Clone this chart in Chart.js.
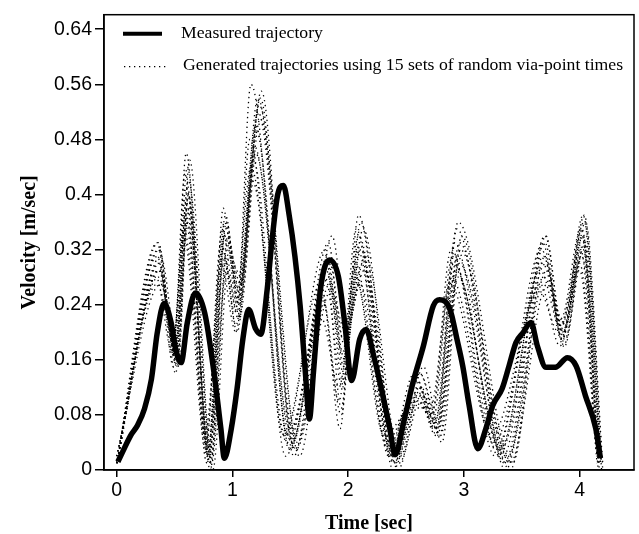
<!DOCTYPE html>
<html>
<head>
<meta charset="utf-8">
<script src="https://cdn.jsdelivr.net/npm/chart.js@4.4.1/dist/chart.umd.min.js"></script>
<style>
  html, body { margin: 0; padding: 0; background: #fff; }
  #wrap { width: 639px; height: 534px; position: relative; }
</style>
</head>
<body>
<div id="wrap"><canvas id="myChart"></canvas></div>
<script>
// axis ticks
const xTickValues = [0, 1, 2, 3, 4];
const yTickValues = [0, 0.08, 0.16, 0.24, 0.32, 0.4, 0.48, 0.56, 0.64];

// measured trajectory: [time sec, velocity m/sec]
const measured = [
  [0.01, 0.012], [0.05, 0.026], [0.12, 0.05], [0.18, 0.065], [0.24, 0.089], [0.30, 0.132],
  [0.35, 0.199], [0.41, 0.242], [0.47, 0.214], [0.51, 0.175], [0.556, 0.156], [0.61, 0.214],
  [0.68, 0.257], [0.76, 0.228], [0.84, 0.142], [0.90, 0.060], [0.93, 0.017], [0.99, 0.060],
  [1.04, 0.118], [1.09, 0.19], [1.14, 0.233], [1.20, 0.205], [1.245, 0.197], [1.30, 0.262],
  [1.34, 0.33], [1.39, 0.399], [1.44, 0.413], [1.49, 0.37], [1.54, 0.31], [1.585, 0.238],
  [1.63, 0.142], [1.665, 0.074], [1.70, 0.142], [1.76, 0.262], [1.84, 0.305], [1.915, 0.281],
  [1.97, 0.214], [2.03, 0.13], [2.10, 0.19], [2.155, 0.204], [2.22, 0.166], [2.30, 0.108],
  [2.36, 0.060], [2.405, 0.022], [2.48, 0.070], [2.56, 0.127], [2.65, 0.18], [2.735, 0.238],
  [2.79, 0.247], [2.88, 0.233], [2.94, 0.19], [2.99, 0.151], [3.045, 0.094], [3.12, 0.031],
  [3.19, 0.06], [3.25, 0.094], [3.33, 0.118], [3.39, 0.151], [3.45, 0.185], [3.51, 0.199],
  [3.58, 0.214], [3.635, 0.18], [3.71, 0.149], [3.79, 0.149], [3.895, 0.163], [3.97, 0.151],
  [4.05, 0.108], [4.14, 0.060], [4.18, 0.017]
];

// generated trajectories (15 sets of random via-point times), peaks and troughs
const gen01 = [[0,0.01],[0.36,0.33],[0.50,0.17],[0.60,0.46],[0.80,0.01],[0.92,0.38],[1.04,0.24],[1.16,0.56],[1.50,0.03],[1.83,0.33],[1.96,0.15],[2.09,0.37],[2.40,0.01],[2.60,0.13],[2.74,0.06],[2.94,0.35],[3.35,0.01],[3.70,0.33],[3.85,0.19],[4.03,0.37],[4.18,0.01]];
const gen02 = [[0,0.01],[0.37,0.29],[0.52,0.16],[0.62,0.40],[0.78,0.02],[0.95,0.36],[1.06,0.22],[1.24,0.54],[1.52,0.04],[1.80,0.28],[1.95,0.12],[2.10,0.33],[2.36,0.02],[2.58,0.12],[2.76,0.05],[2.92,0.33],[3.30,0.02],[3.68,0.30],[3.86,0.20],[4.02,0.34],[4.16,0.01]];
const gen03 = [[0,0.01],[0.35,0.31],[0.49,0.18],[0.59,0.43],[0.81,0.00],[0.93,0.34],[1.05,0.26],[1.20,0.50],[1.48,0.05],[1.84,0.30],[1.97,0.18],[2.12,0.30],[2.42,0.03],[2.62,0.14],[2.78,0.07],[2.96,0.30],[3.40,0.00],[3.71,0.34],[3.84,0.21],[4.04,0.36],[4.19,0.00]];
const gen04 = [[0,0.02],[0.38,0.27],[0.53,0.15],[0.61,0.36],[0.77,0.04],[0.90,0.30],[1.03,0.20],[1.18,0.45],[1.46,0.02],[1.78,0.25],[1.94,0.08],[2.06,0.28],[2.33,0.04],[2.56,0.10],[2.72,0.08],[2.89,0.28],[3.26,0.04],[3.66,0.27],[3.83,0.18],[4.00,0.30],[4.15,0.02]];
const gen05 = [[0,0.01],[0.36,0.30],[0.51,0.19],[0.63,0.38],[0.82,0.01],[0.96,0.33],[1.07,0.27],[1.22,0.52],[1.55,0.03],[1.85,0.26],[1.98,0.20],[2.14,0.29],[2.44,0.01],[2.64,0.11],[2.80,0.05],[2.97,0.32],[3.38,0.02],[3.72,0.29],[3.87,0.19],[4.05,0.33],[4.20,0.01]];
const gen06 = [[0,0.01],[0.34,0.28],[0.48,0.17],[0.58,0.35],[0.79,0.03],[0.91,0.35],[1.04,0.23],[1.15,0.48],[1.44,0.05],[1.76,0.27],[1.92,0.10],[2.07,0.35],[2.35,0.02],[2.57,0.14],[2.73,0.07],[2.90,0.31],[3.28,0.03],[3.67,0.32],[3.84,0.22],[4.01,0.35],[4.16,0.00]];
const gen07 = [[0,0.01],[0.37,0.32],[0.50,0.16],[0.61,0.44],[0.80,0.02],[0.94,0.37],[1.05,0.25],[1.25,0.55],[1.53,0.02],[1.82,0.31],[1.96,0.14],[2.11,0.36],[2.39,0.00],[2.61,0.12],[2.77,0.06],[2.95,0.36],[3.42,0.01],[3.70,0.31],[3.86,0.18],[4.03,0.32],[4.18,0.02]];
const gen08 = [[0,0.02],[0.36,0.28],[0.52,0.18],[0.60,0.39],[0.76,0.05],[0.92,0.32],[1.03,0.21],[1.17,0.42],[1.47,0.04],[1.79,0.24],[1.93,0.06],[2.05,0.29],[2.31,0.05],[2.55,0.09],[2.71,0.09],[2.88,0.27],[3.24,0.05],[3.65,0.26],[3.82,0.20],[4.00,0.29],[4.14,0.03]];
const gen09 = [[0,0.01],[0.35,0.33],[0.49,0.15],[0.62,0.42],[0.83,0.00],[0.97,0.31],[1.08,0.28],[1.23,0.53],[1.58,0.02],[1.86,0.34],[1.99,0.21],[2.15,0.31],[2.45,0.02],[2.65,0.15],[2.81,0.04],[2.98,0.34],[3.36,0.00],[3.69,0.28],[3.88,0.21],[4.04,0.37],[4.19,0.01]];
const gen10 = [[0,0.01],[0.37,0.30],[0.51,0.14],[0.59,0.37],[0.78,0.01],[0.93,0.36],[1.06,0.24],[1.19,0.47],[1.50,0.06],[1.81,0.29],[1.95,0.17],[2.08,0.32],[2.37,0.03],[2.59,0.13],[2.75,0.07],[2.93,0.29],[3.32,0.03],[3.71,0.30],[3.85,0.20],[4.02,0.31],[4.17,0.01]];
const gen11 = [[0,0.01],[0.36,0.29],[0.50,0.20],[0.60,0.41],[0.80,0.03],[0.95,0.29],[1.05,0.22],[1.21,0.49],[1.49,0.03],[1.77,0.22],[1.92,0.12],[2.09,0.34],[2.41,0.01],[2.60,0.10],[2.76,0.06],[2.91,0.30],[3.34,0.02],[3.68,0.33],[3.85,0.19],[4.03,0.34],[4.17,0.00]];
const gen12 = [[0,0.01],[0.38,0.31],[0.53,0.17],[0.63,0.45],[0.82,0.02],[0.96,0.34],[1.07,0.25],[1.24,0.51],[1.56,0.04],[1.84,0.27],[1.97,0.16],[2.13,0.35],[2.43,0.00],[2.63,0.12],[2.79,0.05],[2.96,0.33],[3.40,0.01],[3.72,0.27],[3.87,0.18],[4.05,0.36],[4.20,0.00]];
const gen13 = [[0,0.02],[0.35,0.27],[0.49,0.19],[0.58,0.34],[0.77,0.03],[0.90,0.33],[1.02,0.23],[1.16,0.44],[1.45,0.05],[1.80,0.32],[1.94,0.09],[2.06,0.30],[2.34,0.03],[2.56,0.11],[2.72,0.08],[2.89,0.32],[3.27,0.02],[3.66,0.29],[3.83,0.21],[4.01,0.32],[4.15,0.01]];
const gen14 = [[0,0.01],[0.36,0.32],[0.51,0.16],[0.61,0.38],[0.81,0.01],[0.94,0.35],[1.06,0.26],[1.22,0.54],[1.54,0.03],[1.83,0.28],[1.96,0.19],[2.10,0.27],[2.38,0.02],[2.62,0.14],[2.78,0.06],[2.94,0.31],[3.37,0.01],[3.70,0.34],[3.86,0.20],[4.04,0.33],[4.18,0.01]];
const gen15 = [[0,0.01],[0.37,0.29],[0.52,0.15],[0.62,0.40],[0.79,0.02],[0.93,0.31],[1.04,0.20],[1.20,0.46],[1.51,0.04],[1.82,0.30],[1.95,0.13],[2.11,0.32],[2.39,0.01],[2.61,0.11],[2.77,0.05],[2.95,0.28],[3.31,0.03],[3.69,0.31],[3.84,0.19],[4.02,0.35],[4.16,0.02]];

const generated = [gen01, gen02, gen03, gen04, gen05, gen06, gen07, gen08,
                   gen09, gen10, gen11, gen12, gen13, gen14, gen15];

const measuredLabel = 'Measured trajectory';
const generatedLabel = 'Generated trajectories using 15 sets of random via-point times';

const toPoints = arr => arr.map(p => ({ x: p[0], y: p[1] }));

const datasets = [{
  label: measuredLabel,
  data: toPoints(measured),
  borderColor: '#000',
  borderWidth: 5.5,
  pointRadius: 0,
  cubicInterpolationMode: 'monotone',
  borderCapStyle: 'butt',
  borderJoinStyle: 'round'
}];
generated.forEach(g => {
  datasets.push({
    label: generatedLabel,
    data: toPoints(g),
    borderColor: '#000',
    borderWidth: 1.3,
    borderDash: [1.3, 3.7],
    pointRadius: 0,
    cubicInterpolationMode: 'monotone'
  });
});

// frame round the plot + legend inside the plot
const framePlugin = {
  id: 'frame',
  afterDraw(chart) {
    const { ctx, chartArea: a } = chart;
    ctx.save();
    ctx.strokeStyle = '#000';
    ctx.lineWidth = 1.5;
    ctx.strokeRect(a.left, a.top, a.right - a.left, a.bottom - a.top);

    ctx.font = '17.7px "Liberation Serif", "Times New Roman", serif';
    ctx.fillStyle = '#000';
    ctx.textBaseline = 'middle';

    ctx.lineWidth = 4;
    ctx.beginPath();
    ctx.moveTo(a.left + 19, a.top + 19);
    ctx.lineTo(a.left + 58, a.top + 19);
    ctx.stroke();
    ctx.fillText(measuredLabel, a.left + 77, a.top + 19);

    ctx.lineWidth = 1.3;
    ctx.setLineDash([1.3, 3.7]);
    ctx.beginPath();
    ctx.moveTo(a.left + 20, a.top + 52);
    ctx.lineTo(a.left + 64, a.top + 52);
    ctx.stroke();
    ctx.setLineDash([]);
    ctx.fillText(generatedLabel, a.left + 79, a.top + 51);
    ctx.restore();
  }
};

const tickFont = { family: '"Liberation Sans", Arial, sans-serif', size: 19.5 };
const titleFont = { family: '"Liberation Serif", "Times New Roman", serif', size: 20, weight: 'bold', lineHeight: 1 };

const ctx = document.getElementById('myChart');
const myChart = new Chart(ctx, {
  type: 'line',
  data: { datasets: datasets },
  options: {
    responsive: true,
    maintainAspectRatio: false,
    animation: false,
    layout: { padding: { left: 0, right: 5, top: 11, bottom: 0 } },
    plugins: {
      legend: { display: false },
      tooltip: { enabled: false }
    },
    scales: {
      x: {
        type: 'linear',
        min: -0.11,
        max: 4.47,
        afterBuildTicks: scale => { scale.ticks = xTickValues.map(v => ({ value: v })); },
        afterFit: scale => { scale.height = 64; },
        ticks: { color: '#000', font: tickFont, padding: 2, maxRotation: 0 },
        grid: { display: true, drawOnChartArea: false, drawTicks: true, tickLength: 7, color: '#000', lineWidth: 1.5 },
        border: { display: true, color: '#000', width: 1.5 },
        title: { display: true, text: 'Time [sec]', color: '#000', font: titleFont, padding: { top: 0, bottom: 0 } }
      },
      y: {
        type: 'linear',
        min: 0,
        max: 0.661,
        afterBuildTicks: scale => { scale.ticks = yTickValues.map(v => ({ value: v })); },
        afterFit: scale => { scale.width = 104; },
        ticks: { color: '#000', font: tickFont, padding: 3, callback: v => String(+v.toFixed(2)) },
        grid: { display: true, drawOnChartArea: false, drawTicks: true, tickLength: 9, color: '#000', lineWidth: 1.5 },
        border: { display: true, color: '#000', width: 1.5 },
        title: { display: true, text: 'Velocity [m/sec]', color: '#000', font: titleFont, padding: { top: 20, bottom: 0 } }
      }
    }
  },
  plugins: [framePlugin]
});
</script>
</body>
</html>
